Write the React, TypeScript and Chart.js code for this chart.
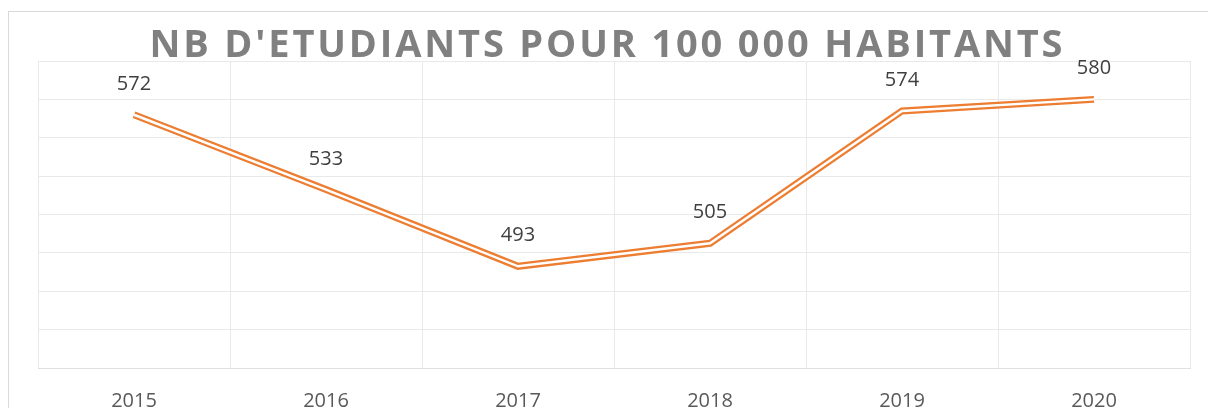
import React, { useEffect, useRef } from "react";
import { Chart, registerables } from "chart.js";

Chart.register(...registerables);

const title = "NB D'ETUDIANTS POUR 100 000 HABITANTS";
const years = ["2015", "2016", "2017", "2018", "2019", "2020"];
const students = [572, 533, 493, 505, 574, 580];
const yMin = 440;
const yMax = 600;
const yStep = 20;

const W = 1208;
const H = 440;

const titlePlugin = {
  id: "spacedTitle",
  afterDraw(chart: any) {
    const ctx = chart.ctx as CanvasRenderingContext2D;
    ctx.save();
    ctx.font = "bold 38px 'Open Sans'";
    ctx.fillStyle = "#808080";
    ctx.textAlign = "left";
    ctx.textBaseline = "alphabetic";
    (ctx as any).letterSpacing = "0px";
    const plain = ctx.measureText(title).width;
    const target = 913;
    const sp = (target - plain) / (title.length - 1);
    (ctx as any).letterSpacing = sp + "px";
    const x0 = 606 - target / 2;
    ctx.fillText(title, x0, 57);
    ctx.restore();
  },
};

const labelPlugin = {
  id: "pointLabels",
  afterDatasetsDraw(chart: any) {
    const ctx = chart.ctx as CanvasRenderingContext2D;
    const meta = chart.getDatasetMeta(1);
    ctx.save();
    ctx.font = "20px 'Open Sans'";
    ctx.fillStyle = "#404040";
    ctx.textAlign = "center";
    ctx.textBaseline = "alphabetic";
    meta.data.forEach((pt: any, i: number) => {
      ctx.fillText(String(students[i]), pt.x, pt.y - 25);
    });
    ctx.restore();
  },
};

export default function App() {
  const ref = useRef<HTMLCanvasElement>(null);
  useEffect(() => {
    if (!ref.current) return;
    const chart = new Chart(ref.current, {
      type: "line",
      data: {
        labels: years,
        datasets: [
          {
            data: students,
            borderColor: "#ffffff",
            borderWidth: 2.5,
            pointRadius: 0,
            borderJoinStyle: "miter",
            tension: 0,
            fill: false,
            order: 0,
          },
          {
            data: students,
            borderColor: "#ED7D31",
            borderWidth: 7,
            pointRadius: 0,
            borderJoinStyle: "miter",
            tension: 0,
            fill: false,
            order: 1,
          },
        ],
      },
      options: {
        responsive: false,
        animation: false,
        events: [],
        layout: { padding: { left: 38, right: 18, top: 61, bottom: 32 } },
        plugins: {
          legend: { display: false },
          title: { display: false },
          tooltip: { enabled: false },
        },
        scales: {
          x: {
            offset: true,
            grid: { offset: true, color: "#e9e9e9", lineWidth: 1, drawTicks: false },
            border: { color: "#e0e0e0" },
            ticks: {
              padding: 21,
              color: "#595959",
              font: { family: "'Open Sans'", size: 20 },
            },
            afterFit: (s: any) => {
              s.height = 40;
            },
          },
          y: {
            min: yMin,
            max: yMax,
            ticks: { stepSize: yStep, display: false },
            grid: { color: "#e9e9e9", lineWidth: 1, drawTicks: false },
            border: { display: false },
            afterFit: (s: any) => {
              s.width = 0;
            },
          },
        },
      },
      plugins: [titlePlugin, labelPlugin],
    });
    return () => chart.destroy();
  }, []);

  return (
    <div
      style={{
        position: "fixed",
        left: 0,
        top: 0,
        width: W,
        height: 408,
        overflow: "hidden",
        background: "#ffffff",
      }}
    >
      <div
        style={{
          position: "absolute",
          left: 8,
          top: 11,
          width: 1260,
          height: 460,
          border: "1px solid #d9d9d9",
          boxSizing: "border-box",
        }}
      />
      <canvas
        ref={ref}
        width={W}
        height={H}
        style={{ position: "absolute", left: 0, top: 0, width: W, height: H }}
      />
    </div>
  );
}
